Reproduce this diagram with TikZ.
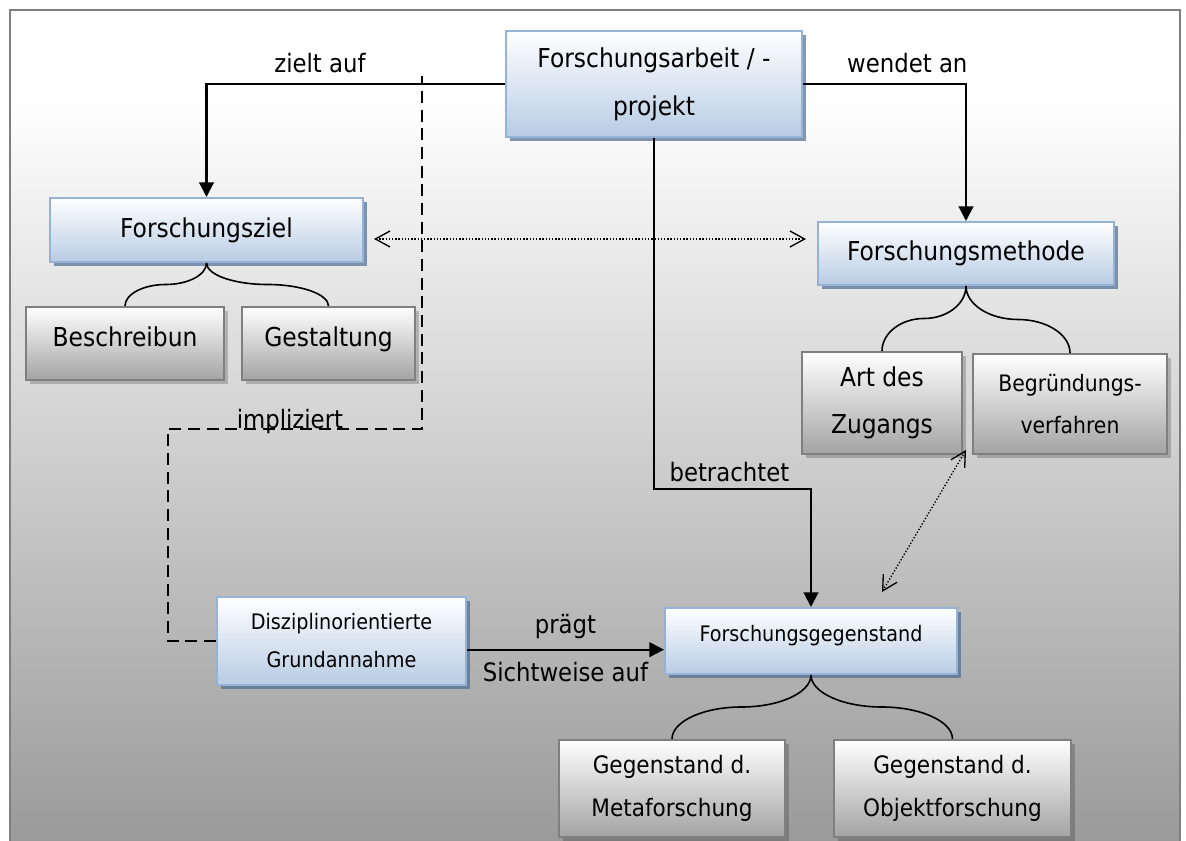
\documentclass[tikz,border=0pt]{standalone}
\usepackage{fontspec}
\setmainfont{DejaVu Sans Condensed}
\usetikzlibrary{arrows.meta,shadows,calc}
\definecolor{rahmenblau}{HTML}{95B3D7}
\definecolor{fuellblau}{HTML}{B8CCE4}
\definecolor{schattenblau}{HTML}{4F6B91}
\definecolor{rahmengrau}{HTML}{7F7F7F}
\definecolor{fuellgrau}{HTML}{A3A3A3}
\definecolor{bggrau}{HTML}{959595}
\pgfdeclareverticalshading{hgverlauf}{100bp}{color(0bp)=(bggrau); color(25bp)=(bggrau); color(70bp)=(white); color(100bp)=(white)}
\newcommand{\klammer}[2]{%
  \coordinate (kq) at ($(#1.south)!.5!(#2.north)$);
  \draw[klammerlinie] (#1.south) .. controls ($(#1.south)!.275!(#1.south |- #2.north)$) and ($(#1.south |- kq)!.45!(kq)$) .. (kq)
    .. controls ($(kq)!.55!(#2.north |- kq)$) and ($(#2.north)!.275!(#2.north |- #1.south)$) .. (#2.north);}

\begin{document}
\begin{tikzpicture}[x=0.75pt,y=-0.75pt,
    blau/.style={draw=rahmenblau, line width=1.5pt, top color=white, bottom color=fuellblau, align=center, inner sep=0pt,
      drop shadow={shadow xshift=3pt, shadow yshift=-3pt, fill=schattenblau, opacity=.7}},
    grau/.style={draw=rahmengrau, line width=1.5pt, top color=white, bottom color=fuellgrau, align=center, inner sep=0pt,
      drop shadow={shadow xshift=3pt, shadow yshift=-3pt, fill=black, opacity=.2}},
    gross/.style={font=\fontsize{19.5}{36}\selectfont},
    anheben/.style={text height=14pt, text depth=9pt},
    beschr/.style={font=\fontsize{19}{22}\selectfont},
    pfeil/.style={draw, line width=1.6pt, -{Triangle[length=11pt,width=11pt]}},
    gestrichelt/.style={draw, line width=1.4pt, dash pattern=on 9pt off 5pt},
    punktiert/.style={draw, line width=1pt, dash pattern=on 1pt off 1.4pt,
      {Straight Barb[length=11pt,width=12pt,line width=1pt]}-{Straight Barb[length=11pt,width=12pt,line width=1pt]}},
    klammerlinie/.style={draw, line width=1.2pt}]
  \useasboundingbox (0,0) rectangle (1186,841);
  \shade[shading=hgverlauf] (10,10) rectangle (1180,880);
  \draw[rahmengrau, line width=1.5pt] (10,880) -- (10,10) -- (1180,10) -- (1180,880);

  \node[blau, gross, minimum width=222pt, minimum height=79.5pt] (arbeit) at (654,84) {Forschungsarbeit / -\\projekt};
  \node[blau, gross, minimum width=234.75pt, minimum height=48pt] (ziel) at (206.5,230) {Forschungsziel};
  \node[blau, gross, minimum width=222pt, minimum height=47.25pt] (methode) at (966,253.5) {Forschungsmethode};
  \node[grau, gross, anheben, minimum width=148.5pt, minimum height=54.75pt] (beschr) at (125,343.5) {Beschreibun};
  \node[grau, gross, anheben, minimum width=129.75pt, minimum height=54.75pt] (gestalt) at (328.5,343.5) {Gestaltung};
  \node[grau, font=\fontsize{19.5}{35}\selectfont, minimum width=120pt, minimum height=76.5pt] (art) at (882,403) {Art des\\Zugangs};
  \node[grau, font=\fontsize{17}{32}\selectfont, minimum width=145.5pt, minimum height=75pt] (begr) at (1070,404) {Begründungs-\\verfahren};
  \node[blau, font=\fontsize{16}{28.5}\selectfont, minimum width=186.75pt, minimum height=66pt] (disz) at (341.5,641) {Disziplinorientierte\\Grundannahme};
  \node[blau, font=\fontsize{16}{20}\selectfont, text height=12pt, text depth=12pt, minimum width=219pt, minimum height=49.5pt] (gegen) at (811,641) {Forschungsgegenstand};
  \node[grau, font=\fontsize{18}{32}\selectfont, minimum width=169.5pt, minimum height=72.75pt] (meta) at (672,788.5) {Gegenstand d.\\Metaforschung};
  \node[grau, font=\fontsize{18}{32}\selectfont, minimum width=177.75pt, minimum height=72.75pt] (objekt) at (952.5,788.5) {Gegenstand d.\\Objektforschung};

  \klammer{ziel}{beschr}
  \klammer{ziel}{gestalt}
  \klammer{methode}{art}
  \klammer{methode}{begr}
  \klammer{gegen}{meta}
  \klammer{gegen}{objekt}

  \draw[pfeil] (arbeit.west) -| node[beschr, pos=.31, above=4.5pt] (lziel) {zielt auf} (ziel.north);
  \draw[pfeil] (arbeit.east) -| node[beschr, pos=.32, above=4.5pt] (lwendet) {wendet an} (methode.north);
  \coordinate (knick) at (654,489);
  \draw[pfeil] (arbeit.south) -- (knick) -| node[beschr, pos=.24, above=1pt] (lbetr) {betrachtet} (gegen.north);
  \draw[pfeil] ([yshift=-6.5pt]disz.east) -- node[beschr, above=4pt] (lpraegt) {prägt}
    node[beschr, below=5pt] (lsicht) {Sichtweise auf} ([yshift=-6.5pt]gegen.west);

  \coordinate (eck) at (168,429);
  \coordinate (impl) at (422,76);
  \draw[gestrichelt] (disz.west) -| (eck) -| node[beschr, pos=.24, anchor=base] (limpl) {impliziert} (impl);

  \draw[punktiert] ([shift={(10,9)}]ziel.east) -- ([shift={(-11,-14.5)}]methode.west);
  \draw[punktiert] ([shift={(3,-5)}]art.south east) -- ([shift={(71,-15)}]gegen.north);
\end{tikzpicture}
\end{document}
